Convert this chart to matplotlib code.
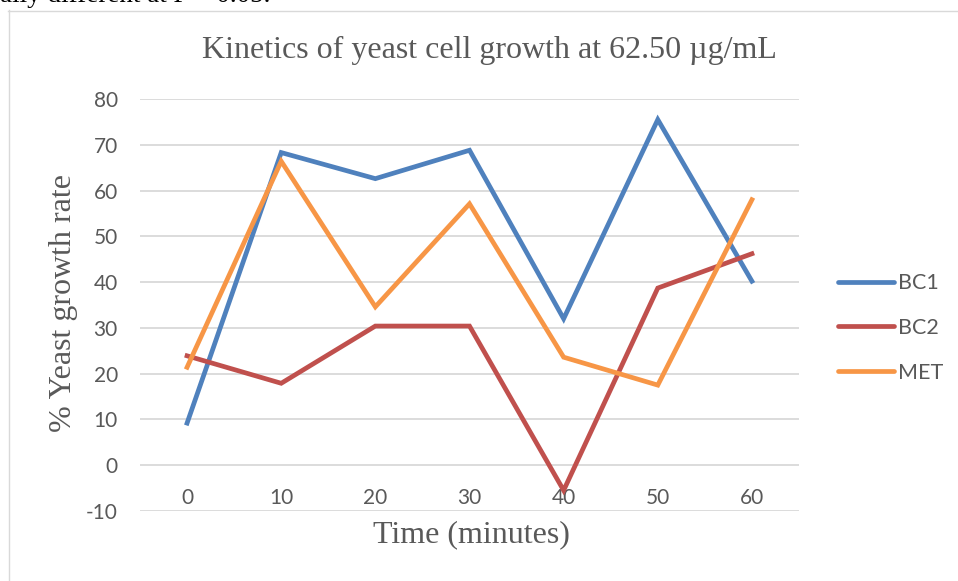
import matplotlib.pyplot as plt
from matplotlib.lines import Line2D

# growth rate (%) sampled every 10 minutes
times = ['0', '10', '20', '30', '40', '50', '60']
bc1 = [9.2, 68.3, 62.6, 68.8, 32.0, 75.5, 40.2]
bc2 = [23.9, 17.9, 30.4, 30.4, -5.5, 38.7, 46.2]
met = [21.4, 66.4, 34.6, 57.1, 23.6, 17.5, 58.0]
yticks = [-10, 0, 10, 20, 30, 40, 50, 60, 70, 80]

W, H = 958, 581
grey = '#595959'
serif = ['Liberation Serif', 'DejaVu Serif']
plt.rcParams['axes.unicode_minus'] = False

fig = plt.figure(figsize=(W / 100, H / 100), dpi=100)
ax = fig.add_axes([140 / W, 70 / H, 659 / W, 412 / H])

x = range(len(times))
ax.plot(x, bc1, color='#4F81BD', lw=3.4, label='BC1', solid_joinstyle='miter')
ax.plot(x, bc2, color='#C0504D', lw=3.4, label='BC2', solid_joinstyle='miter')
ax.plot(x, met, color='#F79646', lw=3.4, label='MET', solid_joinstyle='miter')

ax.set_xlim(-0.5, len(times) - 0.5)
ax.set_ylim(-10, 80)
ax.set_yticks(yticks)
ax.grid(axis='y', color='#D9D9D9', lw=1.3)
ax.set_axisbelow(True)
for s in ax.spines.values():
    s.set_visible(False)

# category axis crosses the value axis at zero
ax.spines['bottom'].set_position(('data', 0))
ax.set_xticks(list(x))
ax.set_xticklabels(times)
ax.tick_params(axis='x', length=0, pad=16.5, labelsize=15, labelcolor=grey)
ax.tick_params(axis='y', length=0, pad=16, labelsize=15, labelcolor=grey)
for lab in ax.get_xticklabels() + ax.get_yticklabels():
    lab.set_fontfamily('Lato')

fig.text(63 / W, 1 - 303 / H, '% Yeast growth rate', fontsize=23, color=grey,
         family=serif, ha='center', va='center', rotation=90)
fig.text(471 / W, 1 - 535 / H, 'Time (minutes)', fontsize=23, color=grey,
         family=serif, ha='center', va='center')
fig.text(489 / W, 1 - 50 / H, 'Kinetics of yeast cell growth at 62.50 µg/mL',
         fontsize=23, color=grey, family=serif, ha='center', va='center')

leg = ax.legend(loc='center left', bbox_to_anchor=(838 / W, 1 - 328 / H),
                bbox_transform=fig.transFigure, frameon=False, borderpad=0,
                borderaxespad=0, handlelength=2.6, handletextpad=0.2,
                labelspacing=1.15, prop={'family': 'Lato', 'size': 15.5})
for t in leg.get_texts():
    t.set_color(grey)
for h in leg.get_lines():
    h.set_solid_capstyle('round')

# surrounding text and chart frame
fig.text(0, 1 - 2 / H, 'ally different at P < 0.05.', fontsize=19.5,
         family=serif, color='black', ha='left', va='baseline')
fig.add_artist(Line2D([8.5 / W, 8.5 / W], [0, 1 - 10 / H], color='#D9D9D9', lw=1))
fig.add_artist(Line2D([8 / W, 1], [1 - 10.5 / H, 1 - 10.5 / H], color='#D9D9D9', lw=1))

fig.savefig('out.png', dpi=100)
